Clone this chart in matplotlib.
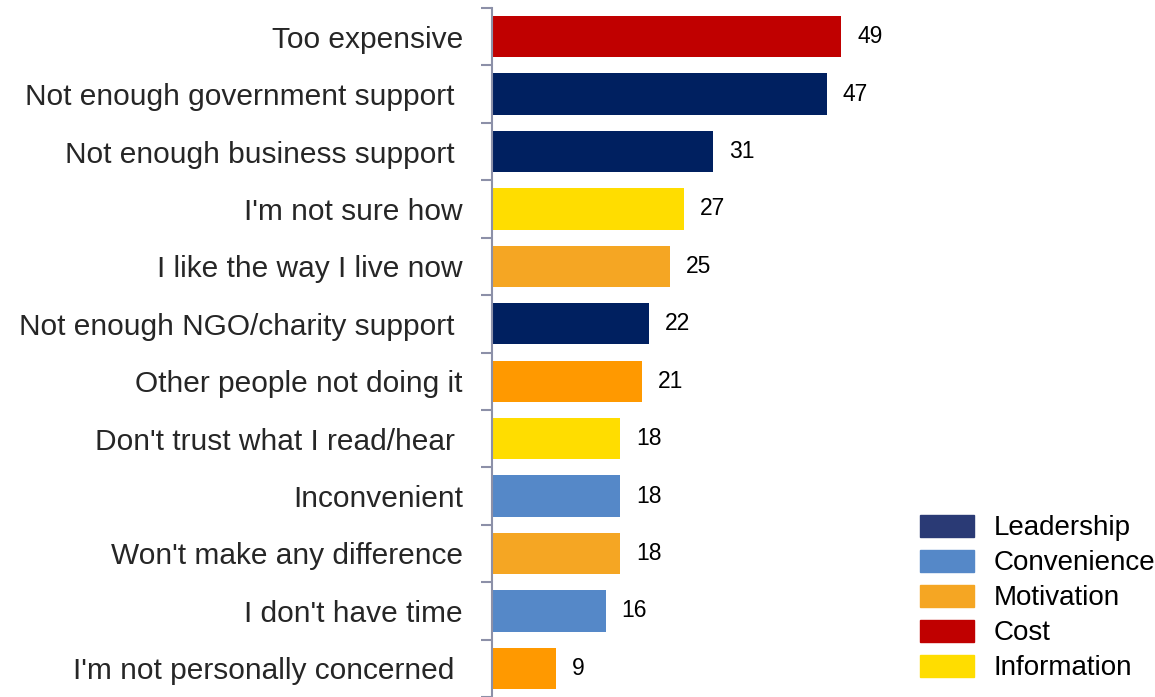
import matplotlib.pyplot as plt
from matplotlib.patches import Patch

categories = ["Too expensive", "Not enough government support ", "Not enough business support ",
              "I'm not sure how", "I like the way I live now", "Not enough NGO/charity support ",
              "Other people not doing it", "Don't trust what I read/hear ", "Inconvenient",
              "Won't make any difference", "I don't have time", "I'm not personally concerned "]
values = [49, 47, 31, 27, 25, 22, 21, 18, 18, 18, 16, 9]
groups = ["Cost", "Leadership", "Leadership", "Information", "Motivation", "Leadership",
          "Motivation2", "Information", "Convenience", "Motivation", "Convenience", "Motivation2"]
legend_names = ["Leadership", "Convenience", "Motivation", "Cost", "Information"]

bar_colors = {"Cost": "#C00000", "Leadership": "#002060", "Information": "#FFDD00",
              "Motivation": "#F5A623", "Motivation2": "#FF9900", "Convenience": "#5588C8"}
legend_colors = {"Leadership": "#2A3A75", "Convenience": "#5588C8", "Motivation": "#F5A623",
                 "Cost": "#C00000", "Information": "#FFDD00"}

fig = plt.figure(figsize=(11.55, 6.97), dpi=100)
ax = fig.add_axes([492 / 1155, 0.0, 1 - 492 / 1155, 1 - 8 / 697])

y = list(range(len(categories)))
ax.barh(y, values, height=0.72, color=[bar_colors[g] for g in groups])
for yi, v in zip(y, values):
    ax.text(v + 2.2, yi, str(v), va="center", ha="left", fontsize=16.5,
            family="Liberation Sans", color="black")

ax.set_ylim(len(categories) - 0.5, -0.5)
ax.set_xlim(0, 93)
ax.set_xticks([])
ax.set_yticks([i + 0.5 for i in range(-1, len(categories))], minor=False)
ax.set_yticklabels([])
ax.tick_params(axis="y", length=8, width=1.5, color="#8C90A8")
ax.set_yticks(y, minor=True)
ax.set_yticklabels(categories, minor=True, fontsize=21.5, color="#262626", family="Liberation Sans")
ax.tick_params(axis="y", which="minor", length=0, pad=21)
for s in ["top", "right", "bottom"]:
    ax.spines[s].set_visible(False)
ax.spines["left"].set_color("#8C90A8")
ax.spines["left"].set_linewidth(1.5)

handles = [Patch(color=legend_colors[n], label=n) for n in legend_names]
fig.legend(handles=handles, loc="center left", bbox_to_anchor=(909 / 1155, 1 - 598 / 697),
           frameon=False, prop={"family": "Liberation Sans", "size": 20},
           handlelength=1.95, handleheight=0.85, handletextpad=0.7, labelspacing=0.30,
           borderpad=0.4, borderaxespad=0)

fig.savefig("out.png", dpi=100)
